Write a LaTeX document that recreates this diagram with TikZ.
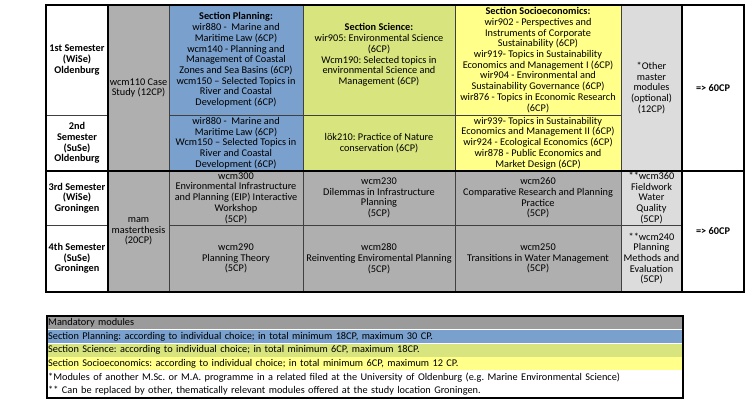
\documentclass[tikz,border=0pt]{standalone}
\usepackage{fontspec}
\setmainfont{Carlito}
\usetikzlibrary{positioning}

\definecolor{planblue}{RGB}{122,160,205}
\definecolor{scigreen}{RGB}{216,228,126}
\definecolor{socyellow}{RGB}{255,255,138}
\definecolor{mandgray}{RGB}{175,175,175}
\definecolor{optgray}{RGB}{220,220,220}
\definecolor{leggray}{RGB}{155,155,155}
\newcommand\tabfont{\fontsize{10.3}{10.7}\selectfont}
\frenchspacing

\begin{document}
\begin{tikzpicture}[x=1pt,y=-1pt,
    cell/.style={draw=black!75,line width=0.6pt,inner sep=0pt,align=center,font=\tabfont},
    head/.style={cell,font=\tabfont\bfseries},
    legrow/.style={inner sep=0pt,inner xsep=1pt,text width=634pt,minimum height=13.25pt,align=left,font=\tabfont},
    thickline/.style={line width=2pt,black}]

    \useasboundingbox (0,0) rectangle (750,402);

    % semesters
    \node[head,fill=white,minimum width=62pt,minimum height=110pt] (s1) at (77,60) {1st Semester\\(WiSe)\\Oldenburg};
    \node[head,fill=white,minimum width=62pt,minimum height=56pt] (s2) at (77,143) {2nd\\Semester\\(SuSe)\\Oldenburg};
    \node[head,fill=white,minimum width=62pt,minimum height=54pt] (s3) at (77,198) {3rd Semester\\(WiSe)\\Groningen};
    \node[head,fill=white,minimum width=62pt,minimum height=67pt] (s4) at (77,258.5) {4th Semester\\(SuSe)\\Groningen};

    % Oldenburg
    \node[cell,fill=mandgray,minimum width=61pt,minimum height=166pt] (case) at (138.5,88) {wcm110 Case\\Study (12CP)};
    \node[cell,fill=planblue,minimum width=134pt,minimum height=110pt] (plan1) at (236,60) {\textbf{Section Planning:}\\wir880 -\ \ Marine and\\Maritime Law (6CP)\\wcm140 - Planning and\\Management of Coastal\\Zones and Sea Basins (6CP)\\wcm150 – Selected Topics in\\River and Coastal\\Development (6CP)};
    \node[cell,fill=planblue,minimum width=134pt,minimum height=56pt] (plan2) at (236,143) {wir880 -\ \ Marine and\\Maritime Law (6CP)\\Wcm150 – Selected Topics in\\River and Coastal\\Development (6CP)};
    \node[cell,fill=scigreen,minimum width=152pt,minimum height=110pt] (sci1) at (379,60) {};
    \node[font=\tabfont,align=center,inner sep=0pt] (scitext) at ([yshift=5pt]sci1.center) {\textbf{Section Science:}\\wir905: Environmental Science\\(6CP)\\Wcm190: Selected topics in\\environmental Science and\\Management (6CP)};
    \node[cell,fill=scigreen,minimum width=152pt,minimum height=56pt] (sci2) at (379,143) {lök210: Practice of Nature\\conservation (6CP)};
    \node[cell,fill=socyellow,minimum width=166pt,minimum height=110pt] (soc1) at (538,60) {\textbf{Section Socioeconomics:}\\wir902 - Perspectives and\\Instruments of Corporate\\Sustainability (6CP)\\wir919- Topics in Sustainability\\Economics and Management I (6CP)\\wir904 - Environmental and\\Sustainability Governance (6CP)\\wir876 - Topics in Economic Research\\(6CP)};
    \node[cell,fill=socyellow,minimum width=166pt,minimum height=56pt] (soc2) at (538,143) {wir939- Topics in Sustainability\\Economics and Management II (6CP)\\wir924 - Ecological Economics (6CP)\\wir878 - Public Economics and\\Market Design (6CP)};
    \node[cell,fill=optgray,minimum width=61pt,minimum height=166pt] (other) at (651.5,88) {*Other\\master\\modules\\(optional)\\(12CP)};
    \node[head,fill=white,minimum width=62pt,minimum height=166pt] (cp1) at (713,88) {=> 60CP};

    % Groningen
    \node[cell,fill=mandgray,minimum width=61pt,minimum height=121pt] (thesis) at (138.5,231.5) {mam\\masterthesis\\(20CP)};
    \node[cell,fill=mandgray,minimum width=134pt,minimum height=54pt] (eip) at (236,198) {wcm300\\Environmental Infrastructure\\and Planning (EIP) Interactive\\Workshop\\(5CP)};
    \node[cell,fill=mandgray,minimum width=152pt,minimum height=54pt] (dil) at (379,198) {wcm230\\Dilemmas in Infrastructure\\Planning\\(5CP)};
    \node[cell,fill=mandgray,minimum width=166pt,minimum height=54pt] (comp) at (538,198) {wcm260\\Comparative Research and Planning\\Practice\\(5CP)};
    \node[cell,fill=optgray,minimum width=61pt,minimum height=54pt] (field) at (651.5,198) {**wcm360\\Fieldwork\\Water\\Quality\\(5CP)};
    \node[cell,fill=mandgray,minimum width=134pt,minimum height=67pt] (theory) at (236,258.5) {wcm290\\Planning Theory\\(5CP)};
    \node[cell,fill=mandgray,minimum width=152pt,minimum height=67pt] (reinv) at (379,258.5) {wcm280\\Reinventing Enviromental Planning\\(5CP)};
    \node[cell,fill=mandgray,minimum width=166pt,minimum height=67pt] (trans) at (538,258.5) {wcm250\\Transitions in Water Management\\(5CP)};
    \node[cell,fill=optgray,minimum width=61pt,minimum height=67pt] (methods) at (651.5,258.5) {**wcm240\\Planning\\Methods and\\Evaluation\\(5CP)};
    \node[head,fill=white,minimum width=62pt,minimum height=121pt] (cp2) at (713,231.5) {=> 60CP};

    \draw[thickline] (s1.north west) rectangle (cp2.south east);
    \draw[thickline] (s2.south west) -- (cp1.south east);
    \draw[thickline] (s1.north east) -- (s4.south east);
    \draw[thickline] (cp1.north west) -- (cp2.south west);

    % legend
    \node[legrow,fill=leggray,anchor=north west] (lgMand) at (47,316) {Mandatory modules};
    \node[legrow,fill=planblue,below=0pt of lgMand] (lgPlan) {Section Planning: according to individual choice; in total minimum 18CP, maximum 30 CP.};
    \node[legrow,fill=scigreen,below=0pt of lgPlan] (lgSci) {Section Science: according to individual choice; in total minimum 6CP, maximum 18CP.};
    \node[legrow,fill=socyellow,below=0pt of lgSci] (lgSoc) {Section Socioeconomics: according to individual choice; in total minimum 6CP, maximum 12 CP.};
    \node[legrow,fill=white,below=0pt of lgSoc] (lgStar) {*Modules of another M.Sc. or M.A. programme in a related filed at the University of Oldenburg (e.g. Marine Environmental Science)};
    \node[legrow,fill=white,below=0pt of lgStar] (lgStars) {** Can be replaced by other, thematically relevant modules offered at the study location Groningen.};
    \draw[thickline] (lgMand.north west) rectangle (lgStars.south east);

\end{tikzpicture}
\end{document}
